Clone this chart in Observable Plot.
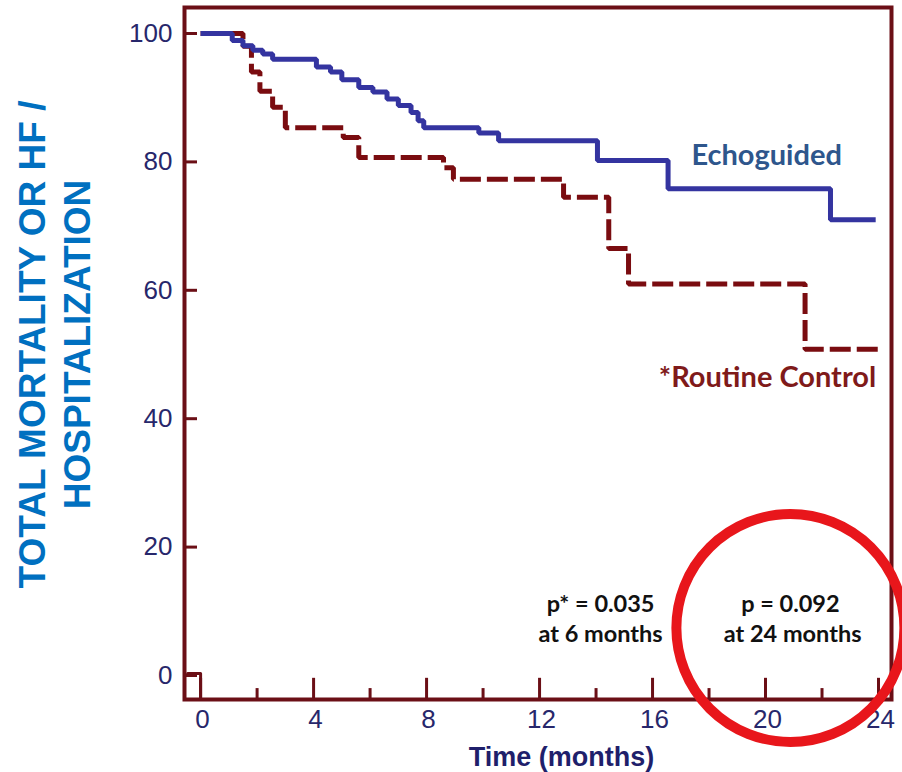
<!DOCTYPE html>
<html><head><meta charset="utf-8">
<script src="https://cdn.jsdelivr.net/npm/d3@7"></script>
<script src="https://cdn.jsdelivr.net/npm/@observablehq/plot@0.6"></script>
<style>body{margin:0;background:#fff}</style>
</head><body><div id="chart"></div>
<script>
// Echoguided (solid blue) Kaplan–Meier steps
const echoMonths = [0, 1.12, 1.5, 1.85, 2.2, 2.55, 4.1, 4.6, 5.0, 5.6, 6.1, 6.6, 7.0, 7.45, 7.7, 7.9, 9.85, 10.55, 14.05, 16.55, 22.3, 23.9];
const echoValues = [100, 98.9, 98.1, 97.4, 96.8, 96.0, 94.8, 94.0, 92.8, 91.6, 90.9, 89.8, 88.8, 87.7, 86.4, 85.3, 84.5, 83.3, 80.2, 75.8, 71.0, 71.0];
// Routine control (dashed red) steps
const routineMonths = [0, 1.5, 1.8, 2.1, 2.55, 3.0, 5.05, 5.6, 8.6, 8.95, 12.85, 14.45, 15.15, 21.4, 24.0];
const routineValues = [100, 98.0, 94.0, 91.0, 88.5, 85.3, 83.8, 80.7, 79.1, 77.3, 74.5, 66.5, 61.0, 50.8, 50.8];
// small stray segment near origin
const strayMonths = [-0.46, 0, 0];
const strayValues = [0.3, 0.3, -3.74];

const xTicks = [0, 4, 8, 12, 16, 20, 24];
const xMinorTicks = [2, 6, 10, 14, 18, 22];
const yTicks = [0, 20, 40, 60, 80, 100];

const seriesLabels = ["Echoguided", "*Routine Control"];
const pLabels = ["p* = 0.035", "at 6 months", "p = 0.092", "at 24 months"];
const yTitle = "TOTAL MORTALITY OR HF /\nHOSPITALIZATION";
const xTitle = "Time (months)";

const echo = echoMonths.map((m, i) => ({m, v: echoValues[i]}));
const routine = routineMonths.map((m, i) => ({m, v: routineValues[i]}));
const stray = strayMonths.map((m, i) => ({m, v: strayValues[i]}));

const xMin = -0.57, xMax = 24.46, yMin = -3.74, yMax = 104.05;
const maroon = "#6b0f16";
const navy = "#27276b";

const plot = Plot.plot({
  width: 902,
  height: 772,
  marginLeft: 184,
  marginRight: 11,
  marginTop: 7,
  marginBottom: 73,
  x: {domain: [xMin, xMax], axis: null},
  y: {domain: [yMin, yMax], axis: null},
  style: {fontFamily: "Liberation Sans, Arial, sans-serif", background: "#fff", overflow: "visible"},
  marks: [
    Plot.axisY({ticks: yTicks, tickSize: 0, tickPadding: 12, fontSize: 26, color: navy, label: null}),
    Plot.axisX({ticks: xTicks, tickSize: 0, tickPadding: 10, fontSize: 26, color: navy, label: null, dx: 2}),
    Plot.ruleX(xTicks, {x: d => d, y1: yMin, y2: yMin + 3.3, stroke: maroon, strokeWidth: 3}),
    Plot.ruleX(xMinorTicks, {x: d => d, y1: yMin, y2: yMin + 1.7, stroke: maroon, strokeWidth: 3}),
    Plot.ruleY(yTicks, {y: d => d, x1: xMin, x2: xMin + 0.46, stroke: maroon, strokeWidth: 3}),
    Plot.line(stray, {x: "m", y: "v", stroke: maroon, strokeWidth: 3}),
    Plot.line(routine, {x: "m", y: "v", curve: "step-after", stroke: "#7a0c10", strokeWidth: 5, strokeDasharray: "21,6", strokeLinecap: "butt", strokeLinejoin: "miter"}),
    Plot.line(echo, {x: "m", y: "v", curve: "step-after", stroke: "#3434a0", strokeWidth: 5, strokeLinejoin: "miter", strokeLinecap: "butt"}),
    Plot.frame({stroke: maroon, strokeWidth: 4}),
    Plot.text([seriesLabels[0]], {x: 20.04, y: 81.0, text: d => d, fill: "#2e568c", fontSize: 29, fontWeight: "bold", fontFamily: "Lato, sans-serif"}),
    Plot.text([seriesLabels[1]], {x: 20.07, y: 46.4, text: d => d, fill: "#7f1a1a", fontSize: 29, fontWeight: "bold", fontFamily: "Lato, sans-serif"}),
    Plot.text([pLabels[0]], {x: 14.16, y: 11.06, text: d => d, fill: "#111", fontSize: 23.5, fontWeight: "bold", fontFamily: "Lato, sans-serif"}),
    Plot.text([pLabels[1]], {x: 14.16, y: 6.39, text: d => d, fill: "#111", fontSize: 23.5, fontWeight: "bold", fontFamily: "Lato, sans-serif"}),
    Plot.text([pLabels[2]], {x: 20.88, y: 11.06, text: d => d, fill: "#111", fontSize: 23.5, fontWeight: "bold", fontFamily: "Lato, sans-serif"}),
    Plot.text([pLabels[3]], {x: 20.96, y: 6.39, text: d => d, fill: "#111", fontSize: 23.5, fontWeight: "bold", fontFamily: "Lato, sans-serif"}),
    Plot.dot([[20.88, 7.4]], {x: d => d[0], y: d => d[1], r: 114, stroke: "#e8161b", strokeWidth: 10, fill: "none"}),
    Plot.text([yTitle], {x: -5.22, y: 51.56, text: d => d, rotate: -90, fill: "#0070c0", fontSize: 37, fontWeight: "bold", lineHeight: 1.22, textAnchor: "middle", lineAnchor: "middle"}),
    Plot.text([xTitle], {x: 12.78, y: yMin, text: d => d, dy: 58, fill: "#1f1f6b", fontSize: 27, fontWeight: "bold", lineAnchor: "middle"})
  ]
});
document.getElementById("chart").appendChild(plot);
</script>
</body></html>
